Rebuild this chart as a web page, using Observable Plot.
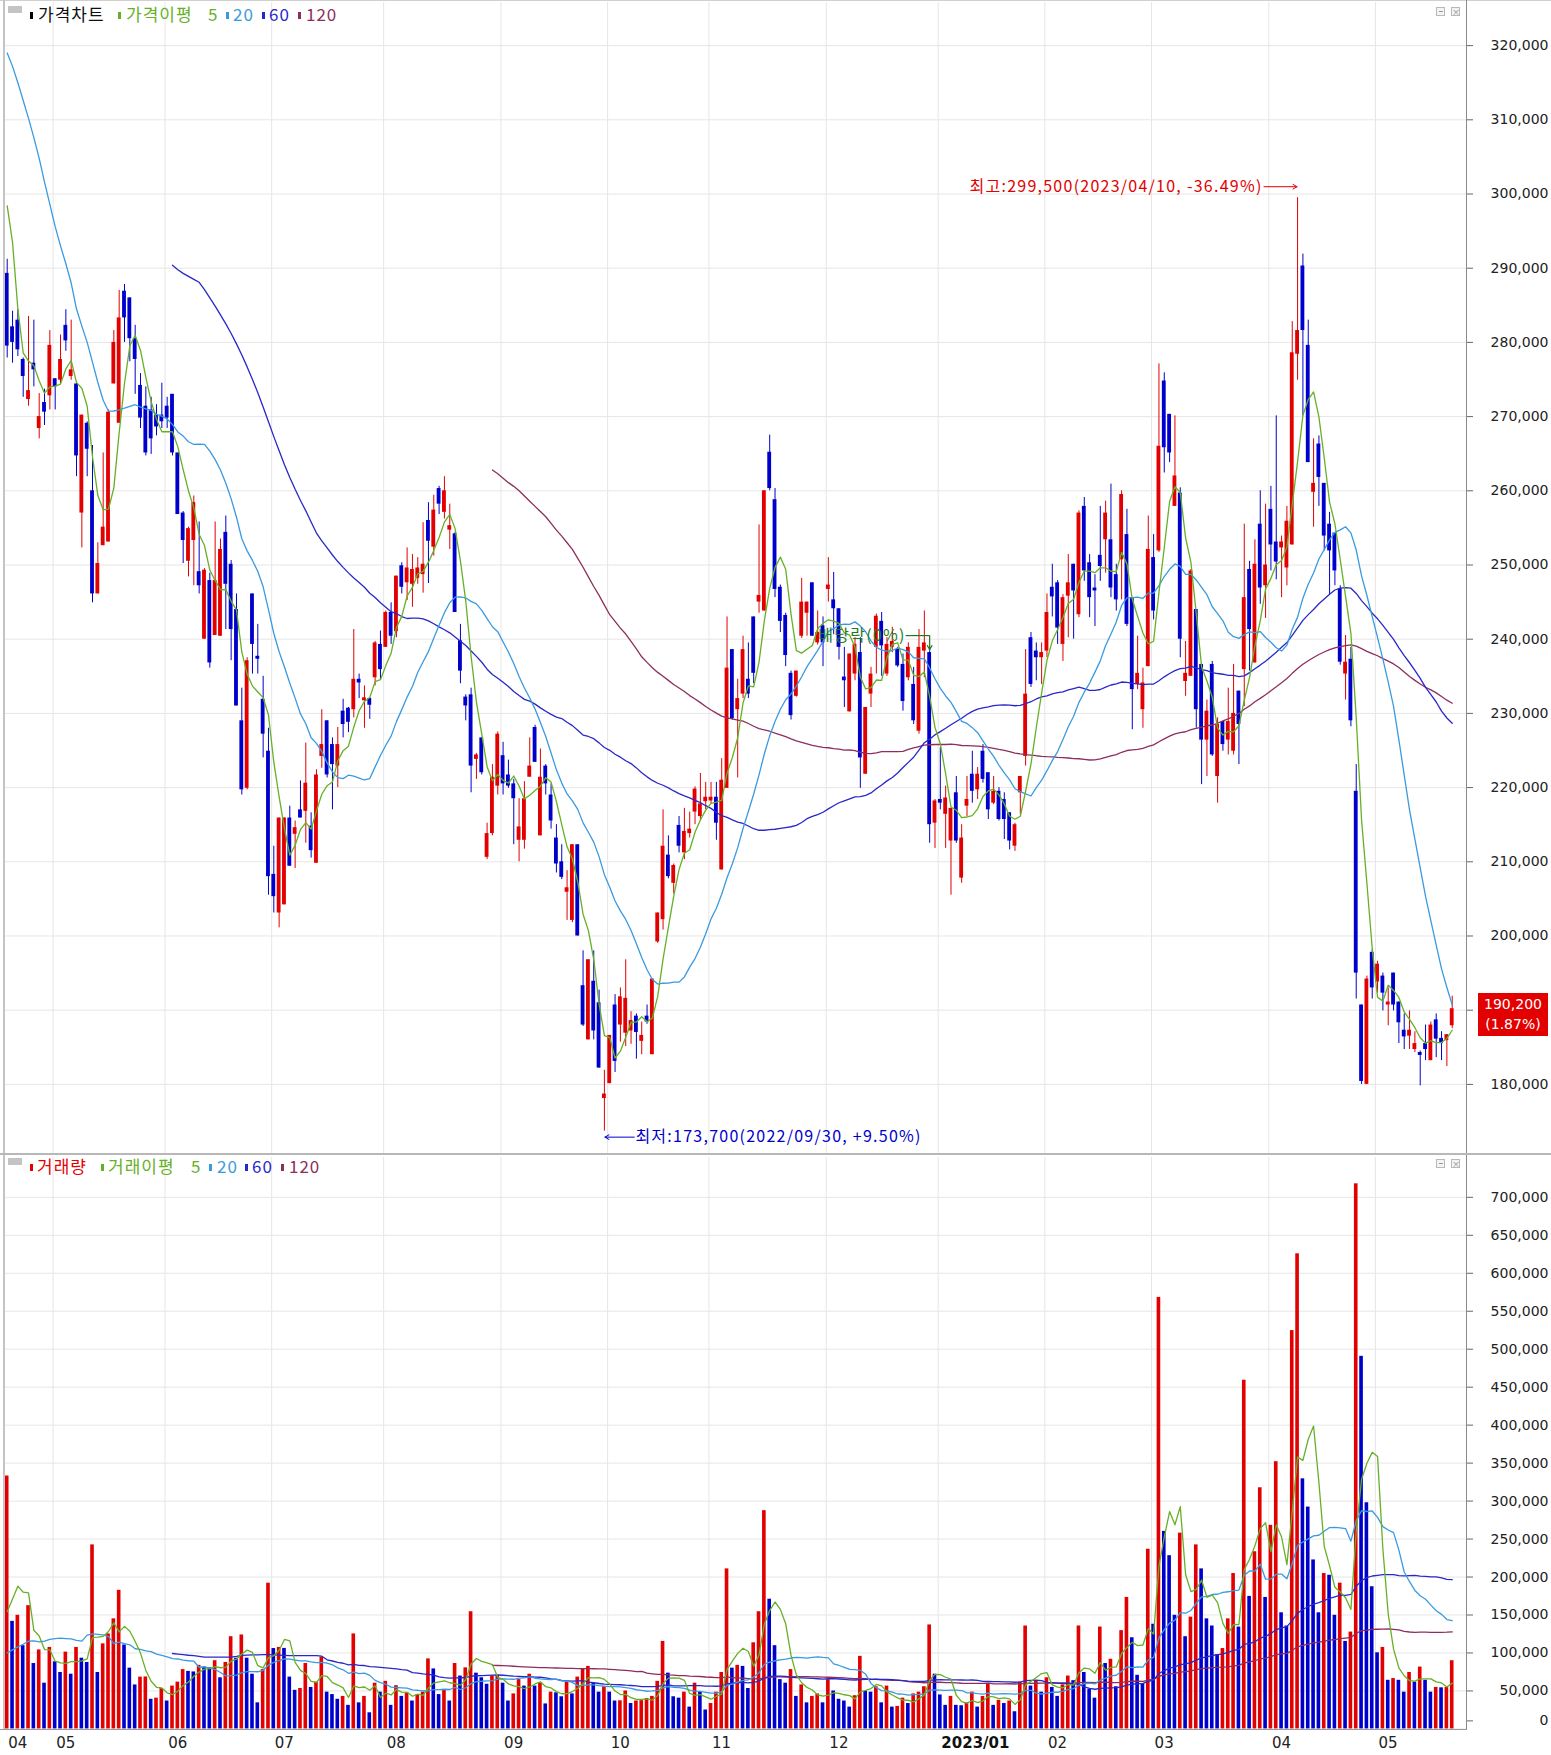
<!DOCTYPE html>
<html><head><meta charset="utf-8">
<script src="https://cdn.jsdelivr.net/npm/d3@7"></script>
<script src="https://cdn.jsdelivr.net/npm/@observablehq/plot@0.6"></script>
<style>
body{margin:0;background:#fff;}
#wrap{position:relative;width:1551px;height:1755px;overflow:hidden;background:#fff;font-family:"Noto Sans CJK KR","Noto Sans",sans-serif;}
.abs{position:absolute;}
.lg{position:absolute;font-size:17px;line-height:20px;letter-spacing:1px;white-space:nowrap;}
</style></head><body><div id="wrap"></div>
<script>
// ---- DATA (prices in thousand KRW, volume in thousand shares) ----
const startDate = "2022-04-19";
const holidays = ["2022-05-05","2022-06-01","2022-06-06","2022-08-15","2022-09-09","2022-09-12","2022-10-03","2022-10-10","2022-12-30","2023-01-23","2023-01-24","2023-03-01","2023-05-01","2023-05-05"];
const exDividendDate = "2022-12-28";

const opens = [
289.3,282.1,283.0,277.7,272.3,277.2,268.4,271.9,272.8,275.1,
274.9,282.3,275.4,274.4,257.0,269.1,260.0,246.1,252.6,253.1,
274.4,269.1,286.9,286.0,280.5,274.2,271.4,270.9,270.2,270.2,
271.4,273.0,265.1,257.0,250.5,253.3,249.1,240.0,247.9,240.5,
240.4,254.4,250.1,244.0,229.0,219.9,246.1,237.7,231.9,224.9,
208.3,203.1,204.2,215.9,213.7,217.0,216.8,214.8,209.8,224.2,
229.0,225.8,222.9,230.3,230.7,230.5,234.6,231.7,232.0,234.8,
239.3,238.9,243.6,241.0,249.9,247.6,247.4,248.2,248.7,256.0,
252.4,260.3,257.1,254.7,254.2,239.8,232.2,232.5,223.8,226.7,
210.6,213.8,220.2,224.3,221.7,220.5,212.9,212.9,221.4,228.1,
213.5,222.9,219.0,213.2,210.0,205.9,202.1,212.3,193.3,186.0,
193.9,191.0,178.1,180.1,190.7,188.0,186.9,187.2,189.2,185.8,
189.2,184.0,199.2,202.2,210.9,207.1,214.9,211.2,213.8,216.7,
216.1,218.1,218.2,218.7,208.9,219.9,238.6,230.5,232.6,234.6,
243.0,245.0,243.8,265.2,258.8,247.0,243.2,235.4,232.3,240.4,
243.5,247.6,239.5,241.8,246.7,245.3,244.1,234.9,230.2,235.3,
238.2,221.8,232.6,238.9,242.4,235.3,238.9,238.6,236.6,234.8,
233.9,227.6,238.4,238.2,215.2,218.4,216.4,212.8,219.3,207.8,
217.5,221.8,219.7,224.9,222.0,217.9,219.5,218.4,216.6,212.1,
219.3,224.2,240.2,238.4,237.5,238.4,247.0,247.6,239.3,245.8,
250.1,243.3,257.9,250.3,246.9,251.3,253.4,253.4,248.7,250.7,
254.1,245.6,233.9,230.5,236.3,251.0,251.9,274.8,270.3,257.9,
259.7,234.3,235.0,244.0,236.6,226.4,236.6,221.5,228.9,226.4,
224.9,233.0,235.9,249.4,236.8,255.5,247.2,257.5,253.1,252.3,
249.6,252.7,278.4,290.3,279.6,259.8,266.3,261.0,255.5,254.3,
246.8,235.3,237.3,219.5,190.7,180.0,197.8,193.8,194.6,190.7,
195.0,191.1,187.3,186.5,184.7,184.3,185.5,183.2,188.7,186.2,
185.9,187.9];

const highs = [
291.2,284.2,284.4,277.9,283.5,283.0,273.1,273.7,281.6,275.1,
281.0,284.4,283.0,274.7,270.2,269.3,266.1,253.0,265.1,270.9,
281.6,287.0,287.8,286.0,282.3,275.8,274.0,272.6,271.6,274.5,
272.6,273.0,265.1,257.2,255.1,259.3,255.8,249.5,248.9,255.8,
253.5,256.6,250.6,246.1,233.4,237.5,246.1,242.0,235.0,228.0,
212.1,215.9,215.9,217.5,215.5,220.9,226.0,216.6,222.4,230.5,
229.0,226.7,228.1,231.9,230.8,241.3,235.3,233.7,232.1,239.7,
241.1,243.8,244.9,248.5,250.3,252.3,251.4,251.0,255.7,258.4,
259.4,260.6,261.9,258.2,254.4,242.0,232.5,233.4,224.6,226.7,
215.2,223.1,227.5,226.1,223.7,221.1,218.5,220.8,226.7,228.4,
225.2,223.1,220.5,215.0,212.3,208.8,212.3,212.3,198.0,196.8,
198.0,192.7,181.9,186.6,192.1,193.0,196.8,189.8,189.5,188.4,
190.7,194.2,203.1,217.0,213.5,209.7,216.1,217.2,216.7,220.1,
221.9,220.7,220.7,220.7,223.9,243.0,238.6,234.6,240.4,239.5,
243.0,255.4,260.0,267.5,260.3,247.3,243.5,235.7,235.7,248.2,
245.0,247.6,243.8,243.0,251.0,249.0,244.1,238.9,238.0,240.2,
240.2,230.8,236.2,243.4,243.6,240.2,241.6,238.9,238.0,239.5,
236.2,241.3,243.8,238.6,218.4,225.4,220.2,217.2,221.5,215.0,
221.5,224.9,222.7,225.8,222.0,221.5,220.0,219.3,216.6,215.2,
221.5,238.6,240.9,239.5,239.5,246.1,250.1,247.9,246.0,251.4,
250.1,257.3,259.1,251.4,248.7,257.9,258.6,260.9,250.1,260.0,
257.5,245.6,240.4,236.1,256.6,254.1,277.1,275.9,270.3,270.1,
260.4,239.7,249.4,244.0,236.6,231.8,237.0,229.4,228.9,233.4,
236.6,233.0,255.5,250.5,253.4,260.0,258.2,260.6,270.1,253.9,
257.9,282.8,299.5,291.9,283.0,267.0,267.4,261.0,257.1,254.3,
247.2,240.5,238.9,223.1,190.7,194.6,198.2,196.6,195.0,193.0,
195.0,191.1,189.5,189.9,187.1,184.5,188.0,188.4,189.5,187.1,
186.7,191.9];

const lows = [
277.9,277.2,278.1,272.6,271.4,274.0,267.0,268.8,270.9,270.9,
274.4,278.8,274.9,261.9,252.3,261.9,244.9,246.1,252.6,253.1,
274.4,269.1,280.0,277.4,273.0,268.4,264.7,264.9,267.4,268.4,
268.4,264.7,256.8,250.2,248.4,247.2,246.1,240.0,236.1,240.5,
240.4,241.3,237.1,231.0,219.0,219.7,235.3,235.3,224.0,205.5,
203.1,201.1,204.2,209.4,209.1,215.9,212.5,210.5,209.8,222.6,
221.3,217.0,220.0,226.7,227.4,229.4,232.0,228.0,229.2,233.7,
234.6,238.9,239.3,240.2,246.1,245.2,244.3,247.4,246.2,247.5,
251.2,256.8,256.2,252.1,243.6,234.0,229.0,219.3,221.1,221.7,
210.3,213.5,219.0,219.0,219.9,212.3,210.0,211.7,221.4,223.4,
213.5,219.0,214.4,208.5,207.6,202.1,201.8,200.0,187.8,186.0,
186.0,182.2,173.7,180.1,181.6,185.7,185.1,185.4,183.4,184.0,
188.1,184.0,199.0,200.8,207.7,205.7,211.2,210.3,213.2,215.0,
215.5,217.0,217.8,212.9,208.9,219.9,229.1,221.3,232.0,232.0,
234.0,243.5,243.8,260.0,245.6,240.9,236.3,229.1,232.2,240.1,
240.4,240.4,239.2,236.3,245.0,240.6,237.2,230.8,230.2,234.4,
219.9,221.8,230.8,235.3,235.0,235.0,238.2,236.2,230.3,234.4,
228.5,227.2,234.8,212.5,211.8,217.0,211.8,205.5,212.5,207.1,
216.1,217.9,218.4,220.6,215.7,217.7,215.5,213.0,211.6,211.4,
216.4,222.9,233.5,234.4,233.9,237.5,243.0,239.3,237.0,240.2,
240.0,242.9,247.8,242.9,241.7,247.8,248.9,245.6,243.8,245.3,
241.7,227.8,233.2,228.0,236.3,242.6,251.7,262.4,263.8,257.9,
237.5,232.3,235.0,228.0,220.4,221.5,224.2,217.9,224.9,224.4,
224.4,223.1,230.9,235.7,236.8,244.7,242.8,249.2,248.0,245.6,
247.2,252.7,274.9,270.1,263.8,255.1,257.9,251.9,246.0,247.2,
236.5,231.8,228.2,191.5,180.0,180.0,191.5,192.3,189.9,187.9,
189.9,185.5,184.7,184.7,184.3,179.8,183.2,183.2,183.6,183.2,
182.4,187.5];

const closes = [
279.5,280.0,279.0,275.4,273.5,276.3,270.0,270.6,279.6,274.0,
277.7,280.2,276.3,264.7,270.2,265.6,246.1,250.2,255.1,270.6,
280.0,283.3,283.3,280.5,277.7,269.8,265.1,267.0,268.6,269.3,
269.8,265.1,256.8,253.3,254.9,258.4,247.2,249.3,236.8,247.9,
252.1,247.4,241.3,231.0,219.7,237.1,239.3,237.3,227.2,208.0,
205.3,215.9,215.9,209.4,214.6,215.9,220.6,211.5,221.7,225.8,
221.7,223.1,225.8,228.5,228.8,234.6,234.1,232.1,231.1,239.5,
235.9,243.6,240.4,248.5,247.0,249.6,249.4,249.6,250.1,253.2,
257.4,258.2,260.0,255.3,243.6,235.7,231.0,222.9,224.4,222.0,
213.8,221.4,227.2,220.5,220.2,218.5,214.7,218.5,222.9,223.4,
221.4,220.5,215.5,209.7,207.9,206.5,212.3,200.0,188.0,196.8,
187.2,182.2,178.7,186.6,183.1,191.8,191.6,188.6,187.0,186.6,
188.4,194.2,203.1,212.1,208.0,209.5,212.1,214.1,214.4,219.8,
217.8,218.7,218.7,215.2,221.0,236.1,229.3,232.0,238.6,232.6,
235.4,245.9,260.0,260.3,246.7,242.4,237.8,229.7,235.7,245.0,
245.0,240.4,240.9,239.5,247.3,244.1,238.9,234.4,238.0,239.3,
224.0,230.8,235.3,243.1,239.1,239.3,239.7,236.4,231.6,238.9,
229.0,238.9,239.5,215.0,218.2,217.9,218.6,217.2,212.8,213.2,
218.4,219.5,221.8,221.1,217.0,219.5,215.7,215.7,212.8,215.0,
221.5,232.6,233.9,237.5,238.2,243.6,245.7,241.5,245.6,247.6,
246.5,257.0,249.2,245.6,246.5,249.8,257.0,246.9,245.3,259.5,
242.0,233.2,235.4,234.1,252.1,243.8,266.0,265.8,265.1,262.0,
240.0,235.4,249.2,230.5,226.4,230.3,224.4,228.5,225.8,228.9,
230.0,228.5,245.6,241.3,250.1,246.9,250.0,252.7,250.4,253.1,
255.9,278.6,281.6,281.6,263.8,261.0,261.8,253.9,251.9,249.2,
236.9,236.9,229.0,195.0,180.4,194.2,193.0,196.2,192.3,191.1,
190.7,188.3,186.4,187.3,185.5,183.9,184.7,188.0,186.1,185.5,
186.7,190.2];

const volumes = [
333.0,141.6,149.6,109.6,162.3,86.1,104.0,60.2,107.3,88.4,
74.3,101.1,72.0,107.3,93.1,87.5,242.3,74.3,112.0,125.1,
144.9,182.5,110.5,80.0,57.9,68.2,68.4,39.0,40.5,53.2,
36.7,56.4,61.6,78.1,75.7,75.0,83.7,81.4,80.4,89.8,
67.3,87.5,121.4,93.1,123.7,93.1,72.0,34.3,78.1,191.9,
105.8,107.3,106.0,68.2,50.8,53.2,86.1,54.6,61.6,94.6,
48.4,45.2,39.0,42.8,31.0,125.1,34.3,42.8,21.2,60.2,
48.4,62.6,31.0,56.9,42.8,47.5,36.7,45.2,48.4,92.2,
79.0,45.2,50.8,36.7,86.1,69.6,80.4,154.3,73.4,67.3,
58.8,69.6,70.5,60.2,36.7,46.1,64.9,56.4,72.0,56.4,
60.2,32.9,48.4,47.5,42.3,61.6,46.1,68.2,79.0,82.3,
60.2,48.4,55.5,48.4,36.7,37.0,49.9,33.4,36.7,37.2,
40.0,42.8,62.6,115.2,73.4,42.3,40.5,48.4,28.7,60.2,
48.4,24.9,33.4,48.4,74.3,210.7,80.0,83.7,82.3,53.2,
113.4,154.3,287.4,170.8,109.6,64.9,60.2,78.1,42.8,57.9,
34.3,42.8,46.1,34.3,64.9,49.9,39.0,36.7,28.7,43.7,
95.5,49.4,48.4,55.5,34.3,56.4,28.7,29.6,40.5,33.4,
46.1,48.4,55.5,136.9,72.0,44.7,31.0,42.8,31.0,30.5,
34.3,48.4,28.7,42.8,59.3,31.0,37.6,33.4,36.7,22.6,
61.6,135.5,56.4,62.6,48.4,67.3,54.6,42.8,57.9,69.6,
63.5,135.5,74.3,52.2,40.5,134.1,86.1,91.7,55.5,129.4,
173.1,120.0,70.6,59.3,236.6,137.8,568.2,260.1,228.1,149.6,
257.8,121.4,147.2,242.3,210.7,144.9,135.5,97.8,105.8,144.9,
204.6,134.1,459.1,174.5,233.3,317.5,173.1,268.1,351.9,152.9,
135.5,524.5,625.6,329.3,292.1,222.5,152.9,204.6,202.3,149.6,
191.9,115.2,127.5,717.8,490.6,297.8,187.2,100.2,107.3,64.0,
66.3,64.0,48.4,74.3,61.6,81.4,64.0,48.4,54.6,54.1,
54.6,89.8];

const ma5Lead = [298.4,293.5,284.5,278.6];                  // candles 0..3
const ma20Lead = [319.0,317.2,315.0,312.6,310.2,307.6,304.8,301.6,298.6,295.6,293.0,290.6,288.0,284.5,282.2,280.0,277.3,274.6,272.2]; // 0..18
const ma60LeadStart = 31;
const ma60Lead = [290.4,289.8,289.3,288.9,288.5,288.1,287.1,286.0,284.9,283.7,282.5,281.2,279.8,278.3,276.7,275.0,273.2,271.3,269.3,267.3,265.4,263.5,261.8,260.2,258.7,257.3,255.8,254.3];
const ma120LeadStart = 91;
const ma120Lead = [262.8,262.3,261.7,261.1,260.6,260.0,259.3,258.6,257.9,257.2,256.5,255.6,254.7,253.9,253.0,252.1,250.9,249.7,248.4,247.1,245.9,244.6,243.3,242.4,241.5,240.7,239.7,238.7];
const vma5Lead = [154.3,171.0,188.0,180.0];
const vma20Lead = [100.2,104.0,108.0,111.5,115.5,116.0,114.5,115.5,118.0,119.0,119.5,119.0,118.5,116.5,115.5,123.5,125.0,124.5,123.7];
const vma60Lead = [99.3,98.5,97.8,97.0,96.5,95.5,94.6,94.6,94.6,94.6,94.6,94.6,95.5,96.9,97.2,97.4,97.6,97.8,97.8,97.6,97.2,96.9,96.6,96.4,96.4,96.4,96.4,96.4];
const vma120Lead = [83.7,83.5,83.2,82.9,82.5,82.0,81.6,81.3,81.0,80.8,80.6,80.4,80.2,80.0,79.8,79.6,79.5,79.4,79.3,79.2,79.1,79.0,78.5,78.0,77.5,77.0,76.3,75.5];

const priceTicks = d3.range(180000, 320001, 10000);
const volumeTicks = d3.range(0, 700001, 50000);

// ---- BUILD ----
const K = 1000;
const RED = "#e30000", BLUE = "#0000cc";
const C5 = "#66b027", C20 = "#3a9ae0", C60 = "#2828c8", C120 = "#8c2e5e";
const GRID = "#e6e6e6";
const N = closes.length;

function tradingDays(start, n) {
  const out = []; const d = new Date(start + "T00:00:00Z");
  while (out.length < n) {
    const s = d.toISOString().slice(0, 10), w = d.getUTCDay();
    if (w !== 0 && w !== 6 && !holidays.includes(s)) out.push(s);
    d.setUTCDate(d.getUTCDate() + 1);
  }
  return out;
}
const dates = tradingDays(startDate, N);
const candles = d3.range(N).map(i => ({i, open: opens[i]*K, high: highs[i]*K, low: lows[i]*K, close: closes[i]*K,
  color: closes[i] >= opens[i] ? RED : BLUE}));
const vbars = d3.range(N).map(i => ({i, v: volumes[i]*K, color: (i === 0 || volumes[i] >= volumes[i-1]) ? RED : BLUE}));

function sma(values, n, lead, leadStart) {
  return values.map((_, i) => {
    if (i >= n - 1) return {i, v: d3.mean(values.slice(i - n + 1, i + 1)) * K};
    const k = i - leadStart;
    return (k >= 0 && k < lead.length) ? {i, v: lead[k] * K} : null;
  }).filter(d => d);
}
const monthStarts = d3.range(N).filter(i => i === 0 || dates[i].slice(0, 7) !== dates[i-1].slice(0, 7));
const monthLabels = monthStarts.map(i => {
  const [y, m] = dates[i].split("-");
  return {i, label: m === "01" ? `${y}/${m}` : m, bold: m === "01"};
});
const gridX = monthStarts.filter(i => i > 0);

const xDomain = [-0.319, 273.68];
const W = 1551, ML = 5, MR = 85;
const fmt = d3.format(",");

const iMax = d3.maxIndex(highs), iMin = d3.minIndex(lows);
const last = closes[N-1]*K, prev = closes[N-2]*K;
const fmtDate = s => s.replaceAll("-", "/");
const hiText = `최고:${fmt(highs[iMax]*K)}(${fmtDate(dates[iMax])}, ${((last/(highs[iMax]*K)-1)*100).toFixed(2)}%)`;
const loText = `최저:${fmt(lows[iMin]*K)}(${fmtDate(dates[iMin])}, +${((last/(lows[iMin]*K)-1)*100).toFixed(2)}%)`;
const iDiv = dates.indexOf(exDividendDate);

const lineOpts = (c) => ({x: "i", y: "v", stroke: c, strokeWidth: 1.3});
const axisOpts = {anchor: "right", tickSize: 6, tickPadding: 76, textAnchor: "end",
  tickFormat: fmt, fontSize: 14, fill: "#222", stroke: "#666", label: null};

const priceChart = Plot.plot({
  width: W, height: 1155, marginLeft: ML, marginRight: MR, marginTop: 2, marginBottom: 2,
  x: {domain: xDomain, axis: null},
  y: {domain: [170687, 325809], axis: null},
  color: {type: "identity"},
  style: {background: "transparent", overflow: "visible", fontFamily: "DejaVu Sans"},
  marks: [
    Plot.ruleY(priceTicks, {stroke: GRID}),
    Plot.ruleX(gridX, {x: d => d - 0.4, stroke: GRID}),
    Plot.ruleX(candles, {x: "i", y1: "low", y2: "high", stroke: "color", strokeWidth: 1}),
    Plot.rect(candles, {x1: d => d.i - 0.36, x2: d => d.i + 0.36, y1: "open", y2: "close", fill: "color"}),
    Plot.line(sma(closes, 120, ma120Lead, ma120LeadStart), lineOpts(C120)),
    Plot.line(sma(closes, 60, ma60Lead, ma60LeadStart), lineOpts(C60)),
    Plot.line(sma(closes, 20, ma20Lead, 0), lineOpts(C20)),
    Plot.line(sma(closes, 5, ma5Lead, 0), lineOpts(C5)),
    // tick labels hidden under the last-price box are not drawn (the box covers them in the reference)
    Plot.axisY({ticks: priceTicks, ...axisOpts, tickFormat: d => Math.abs(d - last) < 3500 ? "" : fmt(d)}),
    // highest / lowest annotations
    Plot.text([iMax], {x: d => d, y: d => highs[d]*K, text: () => hiText, textAnchor: "end", dx: -35, dy: -11,
      fill: RED, fontSize: 16, fontFamily: "Noto Sans CJK KR"}),
    Plot.arrow([iMax], {x1: d => d - 6.3, x2: d => d - 0.1, y1: d => highs[d]*K, y2: d => highs[d]*K, dy: -11,
      stroke: RED, strokeWidth: 1, headLength: 7}),
    Plot.text([iMin], {x: d => d, y: d => lows[d]*K, text: () => loText, textAnchor: "start", dx: 31, dy: 6,
      fill: BLUE, fontSize: 16, fontFamily: "Noto Sans CJK KR"}),
    Plot.arrow([iMin], {x1: d => d + 5.6, x2: d => d + 0.1, y1: d => lows[d]*K, y2: d => lows[d]*K, dy: 6,
      stroke: BLUE, strokeWidth: 1, headLength: 7}),
    // ex-dividend marker
    Plot.text([iDiv], {x: d => d, y: d => highs[d]*K, text: () => "배당락(0%)", textAnchor: "end", dx: -24, dy: -14,
      fill: "#1f7a1f", fontSize: 16, fontFamily: "Noto Sans CJK KR"}),
    Plot.link([iDiv], {x1: d => d - 4.5, x2: d => d, y1: d => highs[d]*K, y2: d => highs[d]*K, dy: -14, stroke: "#1f7a1f", strokeWidth: 1.2}),
    Plot.arrow([iDiv], {x1: d => d, x2: d => d, y1: d => highs[d]*K + 1900, y2: d => highs[d]*K, stroke: "#1f7a1f", strokeWidth: 1.2, headLength: 6})
  ]
});

const volChart = Plot.plot({
  width: W, height: 600, marginLeft: ML, marginRight: MR, marginTop: 2, marginBottom: 26.6,
  x: {domain: xDomain, axis: null},
  y: {domain: [0, 752436], axis: null},
  color: {type: "identity"},
  style: {background: "transparent", overflow: "visible", fontFamily: "DejaVu Sans"},
  marks: [
    Plot.ruleY(volumeTicks, {stroke: GRID}),
    Plot.ruleX(gridX, {x: d => d - 0.4, stroke: GRID}),
    Plot.rect(vbars, {x1: d => d.i - 0.34, x2: d => d.i + 0.34, y1: 0, y2: "v", fill: "color"}),
    Plot.line(sma(volumes, 120, vma120Lead, 91), lineOpts(C120)),
    Plot.line(sma(volumes, 60, vma60Lead, 31), lineOpts(C60)),
    Plot.line(sma(volumes, 20, vma20Lead, 0), lineOpts(C20)),
    Plot.line(sma(volumes, 5, vma5Lead, 0), lineOpts(C5)),
    Plot.axisY({ticks: volumeTicks.filter(d => d > 0), ...axisOpts}),
    Plot.axisY({ticks: [0], ...axisOpts, dy: -8}),
    Plot.text(monthLabels.filter(d => !d.bold), {x: "i", text: "label", frameAnchor: "bottom", dy: 19, dx: 1,
      textAnchor: "start", fontSize: 15, fill: "#222"}),
    Plot.text(monthLabels.filter(d => d.bold), {x: "i", text: "label", frameAnchor: "bottom", dy: 19, dx: 1,
      textAnchor: "start", fontSize: 15, fontWeight: "bold", fill: "#111"})
  ]
});

// widen annotation lettering like the reference's bitmap font
d3.select(priceChart).selectAll("text").filter(function() {
  const t = this.textContent; return t.startsWith("최") || t.startsWith("배당");
}).attr("letter-spacing", "1.25px");

const wrap = document.getElementById("wrap");
function add(el, css) { Object.assign(el.style, css); wrap.appendChild(el); return el; }
function div(css, html) { const d = document.createElement("div"); d.className = "abs"; if (html) d.innerHTML = html; return add(d, css); }

add(priceChart, {position: "absolute", left: "0px", top: "0px"});
add(volChart, {position: "absolute", left: "0px", top: "1155px"});

// frame lines
div({left: "0px", top: "0px", width: "1551px", height: "1px", background: "#d0d0d0"});
div({left: "3px", top: "0px", width: "2px", height: "1730px", background: "#c4c4c4"});
div({left: "1466px", top: "0px", width: "1px", height: "1730px", background: "#8a8a8a"});
div({left: "0px", top: "1153px", width: "1551px", height: "2px", background: "#b8b8b8"});
div({left: "0px", top: "1729px", width: "1467px", height: "1px", background: "#9a9a9a"});

// legends
function legend(y, items) {
  items.forEach(([x, text, color, bar]) => {
    if (bar) div({left: x + "px", top: (y - 3) + "px", width: "3px", height: "7px", background: color});
    else { const s = document.createElement("div"); s.className = "lg"; s.textContent = text;
      add(s, {left: x + "px", top: (y - 11) + "px", color}); }
  });
}
legend(15, [[30,"","#000",1],[38,"가격차트","#111"],[118,"",C5,1],[126,"가격이평",C5],[208,"5",C5],
  [226,"",C20,1],[233,"20",C20],[262,"",C60,1],[269,"60",C60],[298,"",C120,1],[306,"120",C120]]);
legend(1167, [[30,"",RED,1],[37,"거래량",RED],[101,"",C5,1],[108,"거래이평",C5],[191,"5",C5],
  [209,"",C20,1],[217,"20",C20],[245,"",C60,1],[252,"60",C60],[281,"",C120,1],[289,"120",C120]]);

// panel icons
[[8, 6], [8, 1158]].forEach(([x, y]) => div({left: x + "px", top: y + "px", width: "14px", height: "7px", background: "#c4c4c4"}));
[[6], [1158]].forEach(([y]) => {
  div({left: "1436px", top: (y + 1) + "px", width: "9px", height: "9px", border: "1px solid #b8b8b8", background: "#f4f4f4", boxSizing: "border-box"},
    '<div style="position:absolute;left:2px;top:3px;width:4px;height:1px;background:#999"></div>');
  div({left: "1451px", top: (y + 1) + "px", width: "9px", height: "9px", border: "1px solid #b8b8b8", background: "#f4f4f4", boxSizing: "border-box", fontSize: "8px", lineHeight: "7px", color: "#888", textAlign: "center"}, "×");
});

// last price box
const yLast = priceChart.scale("y").apply(last);
div({left: "1478px", top: (yLast - 15) + "px", width: "70px", height: "43px", background: "#e30000", color: "#fff",
  fontFamily: "DejaVu Sans", fontSize: "14px", lineHeight: "20px", textAlign: "center", paddingTop: "1px", boxSizing: "border-box"},
  `<div>${fmt(last)}</div><div>(${((last/prev - 1)*100).toFixed(2)}%)</div>`);
</script></body></html>
